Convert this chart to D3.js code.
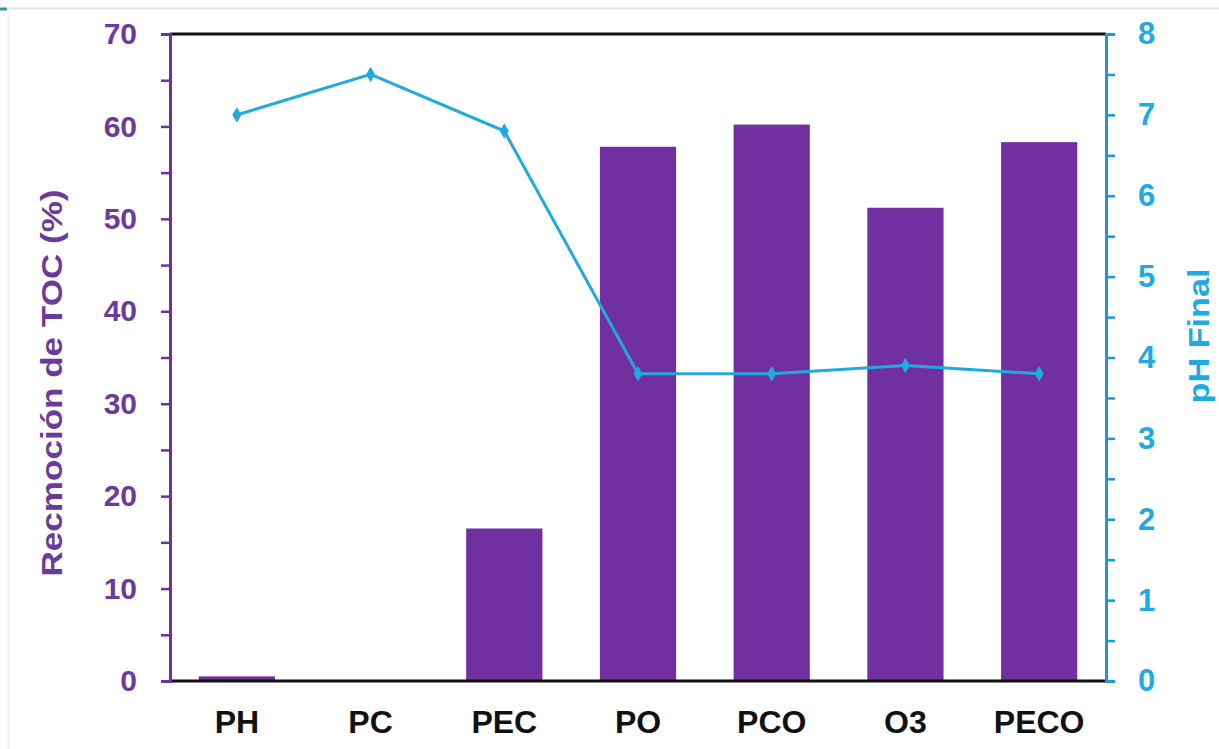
<!DOCTYPE html>
<html><head><meta charset="utf-8">
<script src="https://cdn.jsdelivr.net/npm/d3@7"></script>
<style>body{margin:0;background:#fff;}svg{display:block;font-family:"Liberation Sans",Arial,sans-serif;}</style>
</head><body>
<script>
const categories = ["PH","PC","PEC","PO","PCO","O3","PECO"];
const tocRemoval = [0.5, 0, 16.5, 57.8, 60.2, 51.2, 58.3];
const finalPH = [7.0, 7.5, 6.8, 3.8, 3.8, 3.9, 3.8];
const leftTicks = [0,10,20,30,40,50,60,70];
const rightTicks = [0,1,2,3,4,5,6,7,8];
const leftTitle = "Recmoción de TOC (%)";
const rightTitle = "pH Final";

const W = 1219, H = 749;
const m = {left:170, right:1106, top:34, bottom:681};
const purple = "#7030a0", purpleText = "#6b3a9c", blue = "#21a9e1", blueAxis = "#1c98d2";

const svg = d3.select("body").append("svg").attr("width", W).attr("height", H);

// page frame
svg.append("line").attr("x1",8).attr("x2",W).attr("y1",8.5).attr("y2",8.5).attr("stroke","#e4e4e4").attr("stroke-width",2);
svg.append("line").attr("x1",8.5).attr("x2",8.5).attr("y1",8).attr("y2",H).attr("stroke","#f0f0f0").attr("stroke-width",2);
svg.append("line").attr("x1",0).attr("x2",7).attr("y1",9).attr("y2",9).attr("stroke","#2a9a9a").attr("stroke-width",3);

const x = d3.scaleBand().domain(categories).range([m.left, m.right]).paddingInner(0.43).paddingOuter(0.215);
const yL = d3.scaleLinear().domain([0,70]).range([m.bottom, m.top]);
const yR = d3.scaleLinear().domain([0,8]).range([m.bottom, m.top]);

// bars
svg.append("g").selectAll("rect").data(categories).join("rect")
  .attr("x", d => x(d)).attr("width", x.bandwidth())
  .attr("y", (d,i) => yL(tocRemoval[i]))
  .attr("height", (d,i) => yL(0) - yL(tocRemoval[i]))
  .attr("fill", purple);

// top & bottom frame
svg.append("line").attr("x1",m.left).attr("x2",m.right).attr("y1",m.top).attr("y2",m.top).attr("stroke","#111").attr("stroke-width",3);
svg.append("line").attr("x1",m.left).attr("x2",m.right).attr("y1",m.bottom).attr("y2",m.bottom).attr("stroke","#111").attr("stroke-width",3);

// left axis
const gL = svg.append("g").attr("transform",`translate(${m.left},0)`);
gL.call(d3.axisLeft(yL).tickValues(d3.range(0,71,5)).tickSize(9).tickFormat(d => leftTicks.includes(d) ? d : ""));
gL.select(".domain").attr("stroke", purple).attr("stroke-width",3);
gL.selectAll(".tick line").attr("stroke", purple).attr("stroke-width",2.5);
gL.selectAll(".tick text").attr("fill", purpleText).attr("font-size",30).attr("font-weight","bold")
  .attr("font-family","'Liberation Sans',Arial,sans-serif").attr("x",-33);

// right axis
const gR = svg.append("g").attr("transform",`translate(${m.right},0)`);
gR.call(d3.axisRight(yR).tickValues(d3.range(0,8.01,0.5)).tickSize(9).tickFormat(d => rightTicks.includes(d) ? d : ""));
gR.select(".domain").attr("stroke", blueAxis).attr("stroke-width",3);
gR.selectAll(".tick line").attr("stroke", blueAxis).attr("stroke-width",2.5);
gR.selectAll(".tick text").attr("fill", blue).attr("font-size",31).attr("font-weight","bold")
  .attr("font-family","'Liberation Sans',Arial,sans-serif").attr("x",32);

// x labels
svg.append("g").selectAll("text").data(categories).join("text")
  .attr("x", d => x(d) + x.bandwidth()/2).attr("y", 733)
  .attr("text-anchor","middle").attr("font-size",32).attr("font-weight","bold").attr("fill","#111")
  .text(d => d);

// line
const line = d3.line().x((d,i) => x(categories[i]) + x.bandwidth()/2).y(d => yR(d));
svg.append("path").datum(finalPH).attr("d", line).attr("fill","none").attr("stroke", blue).attr("stroke-width",3);
svg.append("g").selectAll("path").data(finalPH).join("path")
  .attr("d", d3.symbol().type(d3.symbolDiamond).size(70))
  .attr("transform", (d,i) => `translate(${x(categories[i]) + x.bandwidth()/2},${yR(d)})`)
  .attr("fill", blue);

// titles
svg.append("text").attr("transform",`translate(62,383) rotate(-90)`)
  .attr("text-anchor","middle").attr("font-size",30).attr("font-weight","bold").attr("fill",purpleText)
  .attr("textLength",387).attr("lengthAdjust","spacingAndGlyphs").text(leftTitle);
svg.append("text").attr("transform",`translate(1209,336) rotate(-90)`)
  .attr("text-anchor","middle").attr("font-size",30).attr("font-weight","bold").attr("fill",blue)
  .attr("textLength",135).attr("lengthAdjust","spacingAndGlyphs").text(rightTitle);
</script>
</body></html>
